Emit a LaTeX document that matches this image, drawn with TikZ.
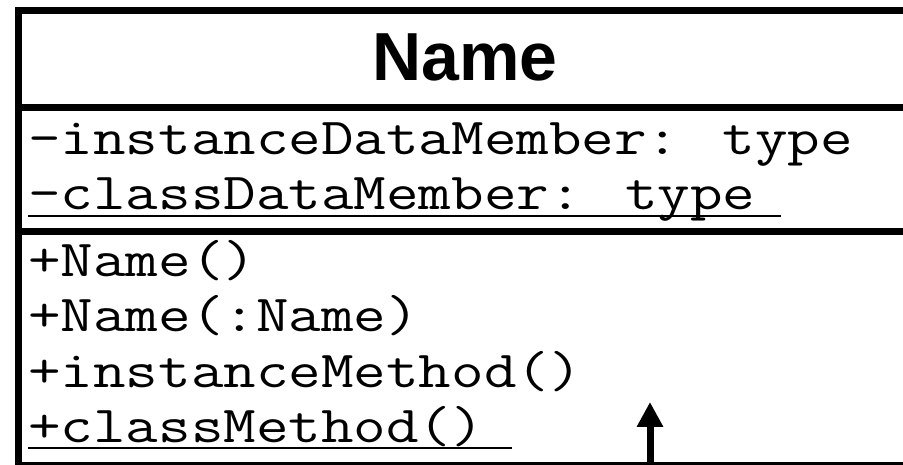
\documentclass[tikz,border=0pt]{standalone}
\usepackage{fontspec}
\usepackage{tikz}
\usetikzlibrary{arrows.meta}
\newfontfamily\umlhead{Liberation Sans}
\newcommand{\umltext}[1]{\scalebox{1.216}[1]{\ttfamily\fontsize{52}{58}\selectfont #1}}

\tikzset{
  member/.style={anchor=base west, inner sep=0pt},
  border/.style={line width=7pt},
  uline/.style={line width=2.5pt}
}

\begin{document}
\begin{tikzpicture}[x=1pt, y=1pt]
    \useasboundingbox (0,0) rectangle (903,465);
    \clip (0,0) rectangle (903,465);

    % class box, right side runs off the page
    \draw[border] (920,454.5) -| (18.5,-0.5) -- (920,-0.5);
    \draw[border] (18.5,357.5) -- (920,357.5);
    \draw[border] (18.5,233.5) -- (920,233.5);

    \node[anchor=base, inner sep=0pt, font=\umlhead\bfseries\fontsize{68}{72}\selectfont] (title) at (465,384) {Name};

    \node[member] (idm) at (28,310) {\umltext{-instanceDataMember: type}};
    \node[member] (cdm) at (28,255) {\umltext{-classDataMember: type}};
    \draw[uline] ([yshift=-6pt]cdm.base west) -- ++(753,0);

    \node[member] (ctor1) at (28,188) {\umltext{+Name()}};
    \node[member] (ctor2) at (28,133) {\umltext{+Name(:Name)}};
    \node[member] (im) at (28,77) {\umltext{+instanceMethod()}};
    \node[member] (cm) at (28,22) {\umltext{+classMethod()}};
    \draw[uline] ([yshift=-5pt]cm.base west) -- ++(484,0);

    \coordinate (tail) at (650,-1);
    \coordinate (tip) at (650,63);
    \draw[border, -{Triangle[width=25pt,length=25pt]}] (tail) -- (tip);
\end{tikzpicture}
\end{document}
